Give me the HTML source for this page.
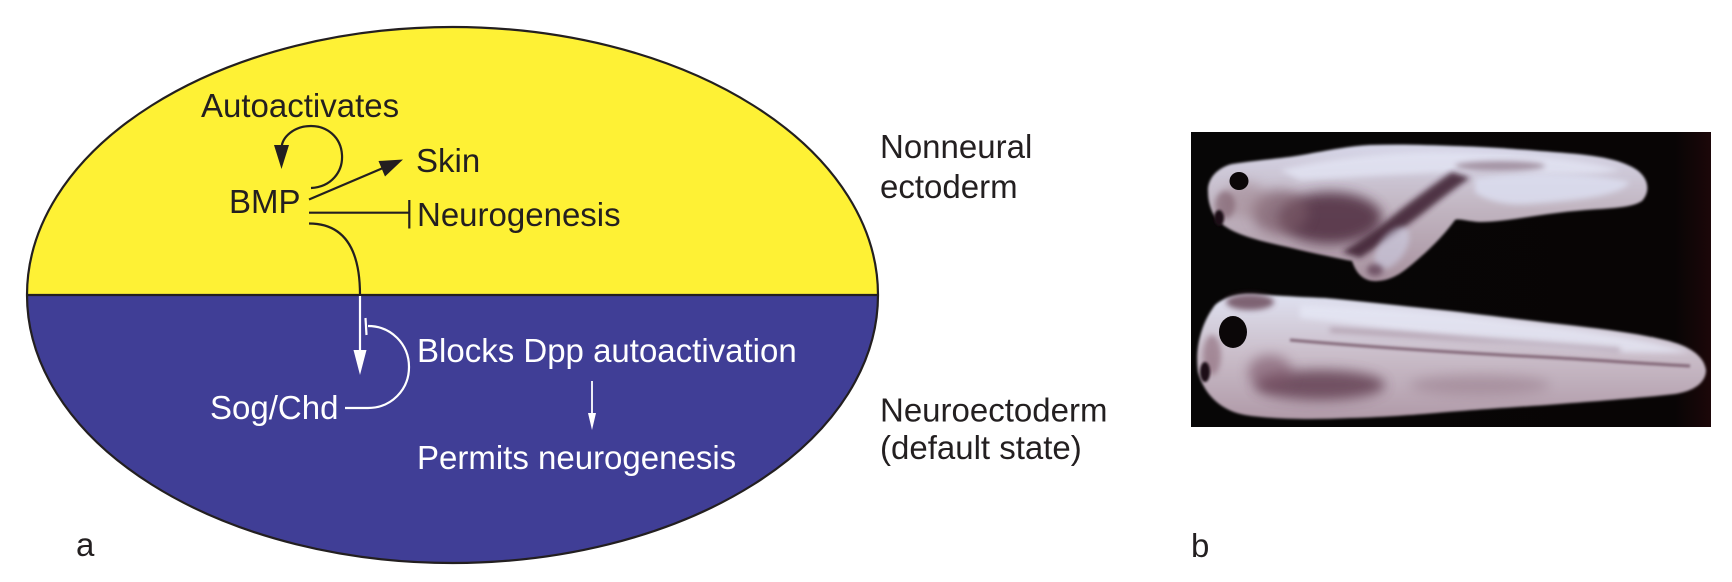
<!DOCTYPE html>
<html>
<head>
<meta charset="utf-8">
<style>
  html, body { margin: 0; padding: 0; background: #ffffff; }
  svg { display: block; }
  text { font-family: "Liberation Sans", Arial, sans-serif; font-size: 33px; }
</style>
</head>
<body>
<svg width="1732" height="582" viewBox="0 0 1732 582" xmlns="http://www.w3.org/2000/svg">
  <defs>
    <clipPath id="topHalf"><rect x="0" y="0" width="900" height="295"/></clipPath>
    <clipPath id="botHalf"><rect x="0" y="295" width="900" height="300"/></clipPath>
    <clipPath id="photoClip"><rect x="1191" y="132" width="520" height="295"/></clipPath>
    <linearGradient id="bgGrad" x1="0" y1="0" x2="1" y2="0">
      <stop offset="0" stop-color="#070606"/>
      <stop offset="0.93" stop-color="#080505"/>
      <stop offset="1" stop-color="#1c0709"/>
    </linearGradient>
    <linearGradient id="tad1" x1="0" y1="0" x2="0" y2="1">
      <stop offset="0" stop-color="#d6d6e8"/>
      <stop offset="0.45" stop-color="#c2b6c2"/>
      <stop offset="1" stop-color="#a8929f"/>
    </linearGradient>
    <linearGradient id="tad2" x1="0" y1="0" x2="0" y2="1">
      <stop offset="0" stop-color="#dfe1f0"/>
      <stop offset="0.5" stop-color="#c9bcc8"/>
      <stop offset="1" stop-color="#b09aa8"/>
    </linearGradient>
    <filter id="blur6" x="-50%" y="-50%" width="200%" height="200%"><feGaussianBlur stdDeviation="6"/></filter>
    <filter id="blur3" x="-50%" y="-50%" width="200%" height="200%"><feGaussianBlur stdDeviation="3"/></filter>
    <filter id="blur1" x="-20%" y="-20%" width="140%" height="140%"><feGaussianBlur stdDeviation="1.2"/></filter>
  </defs>

  <!-- Ellipse halves -->
  <ellipse cx="452.5" cy="295" rx="425.5" ry="268" fill="#fef135" clip-path="url(#topHalf)"/>
  <ellipse cx="452.5" cy="295" rx="425.5" ry="268" fill="#403e96" clip-path="url(#botHalf)"/>
  <ellipse cx="452.5" cy="295" rx="425.5" ry="268" fill="none" stroke="#231f20" stroke-width="2.2"/>
  <line x1="27" y1="295" x2="878" y2="295" stroke="#231f20" stroke-width="2.2"/>

  <!-- Top (yellow) labels -->
  <text x="201" y="117" fill="#231f20">Autoactivates</text>
  <text x="229" y="213" fill="#231f20">BMP</text>
  <text x="416" y="172" fill="#231f20">Skin</text>
  <text x="417" y="226" fill="#231f20">Neurogenesis</text>

  <!-- Autoactivation loop -->
  <path d="M311,188 C331,187 343,172 342,155 C341,137 327,126 311,126 C294,126 282,137 281.5,148" fill="none" stroke="#231f20" stroke-width="2.2"/>
  <polygon points="281.5,169 274,145 289,145" fill="#231f20"/>

  <!-- Skin arrow -->
  <line x1="309" y1="199.5" x2="383" y2="168" stroke="#231f20" stroke-width="2.2"/>
  <polygon points="403,159.5 385,176.5 378.5,161" fill="#231f20"/>

  <!-- Inhibition to Neurogenesis -->
  <line x1="309" y1="212.7" x2="409.3" y2="212.7" stroke="#231f20" stroke-width="2.2"/>
  <line x1="409.3" y1="200" x2="409.3" y2="228.5" stroke="#231f20" stroke-width="2.2"/>

  <!-- BMP down curve -->
  <path d="M309,223.5 C345,223.5 360,250 360,295" fill="none" stroke="#231f20" stroke-width="2.2"/>

  <!-- Bottom (blue) white elements -->
  <line x1="360" y1="296" x2="360" y2="352" stroke="#ffffff" stroke-width="2.2"/>
  <polygon points="360,375 353.5,350 366.5,350" fill="#ffffff"/>

  <path d="M368,326 C391,326 409,344 409,367 C409,390 391,408 368,408 L345,408" fill="none" stroke="#ffffff" stroke-width="2.2"/>
  <line x1="365.5" y1="318" x2="366.5" y2="335" stroke="#ffffff" stroke-width="2.2"/>

  <text x="210" y="419" fill="#ffffff">Sog/Chd</text>
  <text x="417" y="362" fill="#ffffff">Blocks Dpp autoactivation</text>
  <line x1="592" y1="381" x2="592" y2="416" stroke="#ffffff" stroke-width="1.8"/>
  <polygon points="592,430 588,413 596,413" fill="#ffffff"/>
  <text x="417" y="469" fill="#ffffff">Permits neurogenesis</text>

  <!-- Right side labels -->
  <text x="880" y="158" fill="#231f20">Nonneural</text>
  <text x="880" y="198" fill="#231f20">ectoderm</text>
  <text x="880" y="421.5" fill="#231f20">Neuroectoderm</text>
  <text x="880" y="459" fill="#231f20">(default state)</text>

  <!-- panel letters -->
  <text x="76" y="556" fill="#231f20">a</text>
  <text x="1191" y="557" fill="#231f20">b</text>

  <!-- Photo -->
  <g clip-path="url(#photoClip)">
    <rect x="1191" y="132" width="520" height="295" fill="url(#bgGrad)"/>

    <!-- Top tadpole -->
    <g>
      <path filter="url(#blur1)" fill="url(#tad1)" d="M1208,192 C1207,180 1216,168 1232,164 C1260,160 1285,158 1302,155 C1330,150 1350,146 1370,145 C1400,144 1430,145 1455,146 C1490,147 1515,149 1540,151 C1580,154 1610,156 1630,166 C1648,174 1652,190 1642,201 C1630,209 1605,208 1575,211 C1540,214 1505,222 1480,222 C1465,221 1458,218 1455,220 C1445,234 1428,252 1405,270 C1392,280 1378,283 1368,280 C1357,276 1354,266 1352,261 C1330,257 1300,250 1270,243 C1245,237 1225,230 1216,218 C1210,210 1208,200 1208,192 Z"/>
      <!-- bluish dorsal highlight -->
      <path filter="url(#blur3)" fill="#e4e6f5" opacity="0.75" d="M1280,170 C1330,158 1400,150 1460,152 C1520,154 1580,158 1620,170 C1600,176 1540,175 1480,172 C1420,172 1350,178 1300,180 Z"/>
      <path filter="url(#blur3)" fill="#dde0f2" opacity="0.8" d="M1475,178 C1520,172 1590,172 1630,182 C1620,196 1580,200 1530,204 C1505,206 1485,200 1475,192 Z"/>
      <!-- dark body region -->
      <ellipse filter="url(#blur6)" cx="1330" cy="218" rx="52" ry="26" fill="#4e2c3e" opacity="0.85"/>
      <ellipse filter="url(#blur6)" cx="1280" cy="212" rx="28" ry="22" fill="#7a5a68" opacity="0.7"/>
      <ellipse filter="url(#blur6)" cx="1245" cy="200" rx="22" ry="18" fill="#9a7e88" opacity="0.5"/>
      <path filter="url(#blur3)" fill="#3a1f2e" opacity="0.85" d="M1452,172 C1440,180 1418,196 1394,215 C1374,232 1354,245 1342,252 L1360,258 C1374,249 1397,233 1422,214 C1442,198 1458,186 1470,178 Z"/>
      <ellipse filter="url(#blur3)" cx="1392" cy="248" rx="13" ry="24" fill="#d0d2e8" opacity="0.55" transform="rotate(35 1392 248)"/>
      <ellipse filter="url(#blur3)" cx="1375" cy="270" rx="8" ry="6" fill="#5a3a50" opacity="0.7"/>
      <ellipse filter="url(#blur3)" cx="1500" cy="166" rx="45" ry="5" fill="#6a4a5a" opacity="0.5"/>
      <ellipse filter="url(#blur3)" cx="1225" cy="205" rx="10" ry="14" fill="#7a5a68" opacity="0.6"/>
      <!-- eye -->
      <ellipse cx="1239" cy="181" rx="9.5" ry="9" fill="#0b0708"/>
      <!-- mouth -->
      <ellipse filter="url(#blur1)" cx="1219" cy="218" rx="5" ry="8" fill="#1a1014"/>
    </g>

    <!-- Bottom tadpole -->
    <g>
      <path filter="url(#blur1)" fill="url(#tad2)" d="M1198,372 C1195,350 1200,325 1215,305 C1225,296 1240,293 1255,294 C1280,296 1305,297 1325,298 C1370,302 1410,307 1450,311 C1500,317 1540,322 1576,326 C1610,330 1640,334 1665,340 C1690,346 1704,356 1706,370 C1706,382 1695,391 1675,394 C1640,398 1600,401 1547,405 C1500,408 1460,411 1436,413 C1400,416 1380,417 1350,418 C1310,420 1270,419 1245,415 C1222,411 1204,395 1198,372 Z"/>
      <path filter="url(#blur3)" fill="#e6e8f6" opacity="0.75" d="M1300,305 C1380,306 1460,315 1540,325 C1600,332 1650,340 1690,352 C1640,355 1560,350 1480,340 C1410,332 1340,322 1300,318 Z"/>
      <!-- dark band lower body -->
      <ellipse filter="url(#blur6)" cx="1320" cy="385" rx="65" ry="15" fill="#5e3a4e" opacity="0.8"/>
      <ellipse filter="url(#blur6)" cx="1270" cy="372" rx="22" ry="17" fill="#7a5266" opacity="0.6"/>
      <ellipse filter="url(#blur6)" cx="1480" cy="385" rx="70" ry="10" fill="#8a6a7a" opacity="0.4"/>
      <!-- midline dark line -->
      <path filter="url(#blur1)" fill="none" stroke="#6a4a5c" stroke-width="3" opacity="0.75" d="M1290,340 C1380,348 1480,354 1560,358 C1610,361 1650,364 1690,366"/>
      <path filter="url(#blur3)" fill="none" stroke="#8a6a7c" stroke-width="4" opacity="0.5" d="M1330,330 C1420,335 1520,342 1620,350"/>
      <ellipse filter="url(#blur3)" cx="1250" cy="302" rx="24" ry="8" fill="#5e3a4c" opacity="0.75"/>
      <ellipse filter="url(#blur3)" cx="1212" cy="355" rx="9" ry="20" fill="#8a6676" opacity="0.6"/>
      <!-- eye -->
      <ellipse cx="1233" cy="332" rx="14" ry="16" fill="#0b0708"/>
      <!-- mouth -->
      <ellipse filter="url(#blur1)" cx="1205" cy="372" rx="5" ry="10" fill="#1a1014"/>
    </g>
  </g>
</svg>
</body>
</html>
